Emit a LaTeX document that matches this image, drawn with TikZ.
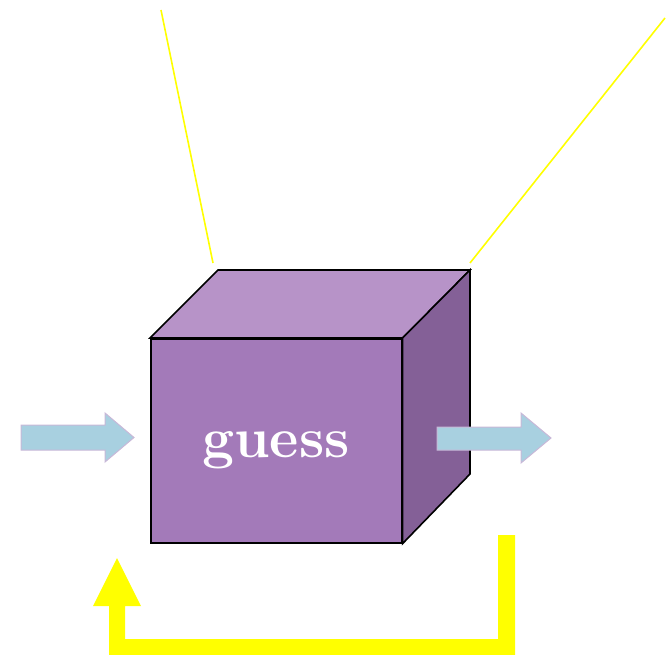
\documentclass[tikz,border=0pt]{standalone}
\usetikzlibrary{calc}
\definecolor{cubefront}{HTML}{A37AB9}
\definecolor{cubetop}{HTML}{B793C8}
\definecolor{cubeside}{HTML}{846097}
\definecolor{flowfill}{HTML}{A8D0E0}
\definecolor{flowedge}{HTML}{C8B8D8}
\definecolor{loopyellow}{HTML}{FFFF00}
\tikzset{
  face/.style={draw=black, line width=1.6pt, line join=miter},
  flowarrow/.style={fill=flowfill, draw=flowedge, line width=1pt},
  guide/.style={draw=loopyellow, line width=1.6pt},
  loop/.style={fill=loopyellow, draw=none},
}
\begin{document}
\begin{tikzpicture}[x=1pt, y=-1pt]
  \useasboundingbox (0,0) rectangle (666,655);

  % front face of the box, carrying the label
  \node[face, fill=cubefront, minimum width=251pt, minimum height=204pt,
        inner sep=0pt, anchor=north west] (front) at (150,338) {};
  \node[text=white, font=\fontsize{57}{60}\selectfont\bfseries, anchor=base] (label)
        at (276,457) {guess};

  % top and side faces
  \coordinate (tl) at (218,270);
  \coordinate (tr) at (470,270);
  \coordinate (br) at (470,474);
  \draw[face, fill=cubetop] (front.north west) -- (tl) -- (tr) -- (front.north east) -- cycle;
  \draw[face, fill=cubeside] (front.north east) -- (tr) -- (br) -- (front.south east) -- cycle;

  % thin guide lines above the box
  \coordinate (g1a) at (161,10);
  \coordinate (g1b) at (213,263);
  \coordinate (g2a) at (665,18);
  \coordinate (g2b) at (470,263);
  \draw[guide] (g1a) -- (g1b);
  \draw[guide] (g2a) -- (g2b);

  % input and output block arrows
  \draw[flowarrow] (21,425) -- (105,425) -- (105,413) -- (134,437.5) -- (105,462)
        -- (105,450) -- (21,450) -- cycle;
  \draw[flowarrow] (437,427) -- (521,427) -- (521,413) -- (551,438) -- (521,463)
        -- (521,450) -- (437,450) -- cycle;

  % feedback loop underneath
  \fill[loop] (498,535) -- (515,535) -- (515,655) -- (109,655) -- (109,606)
        -- (93,606) -- (117,558) -- (141,606) -- (125,606) -- (125,639)
        -- (498,639) -- cycle;
\end{tikzpicture}
\end{document}
